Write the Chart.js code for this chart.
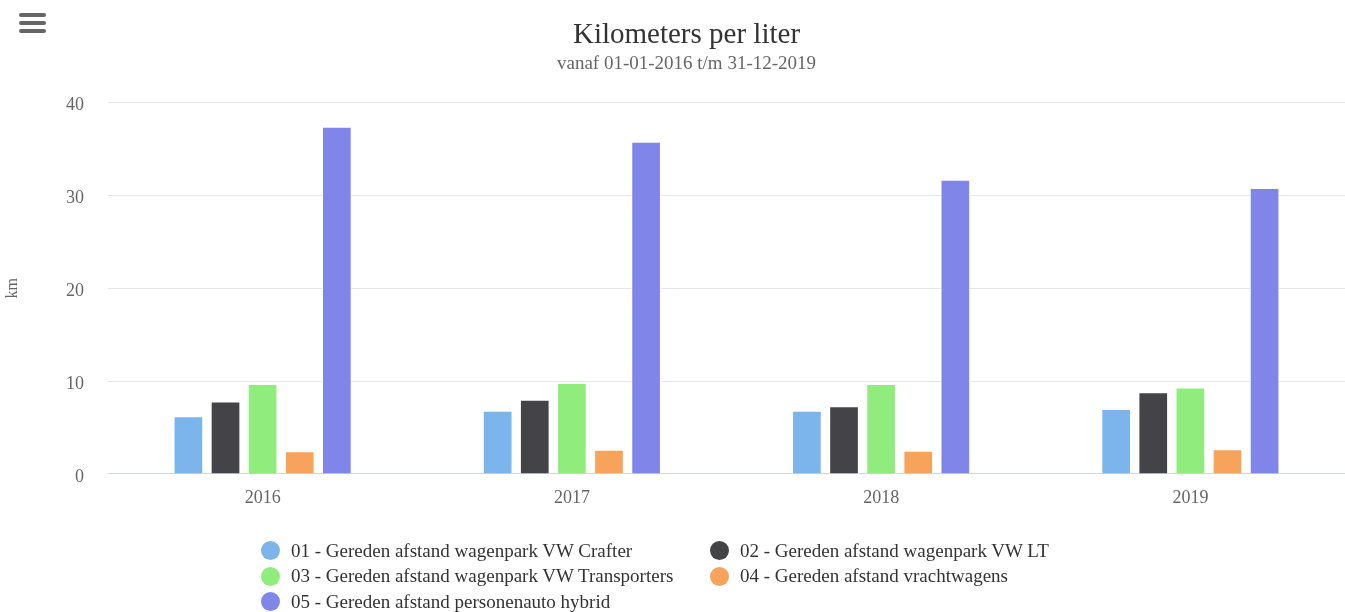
<!DOCTYPE html>
<html>
<head>
<meta charset="utf-8">
<script src="https://cdn.jsdelivr.net/npm/chart.js@4/dist/chart.umd.min.js"></script>
<style>
  html, body { margin: 0; padding: 0; background: #fff; }
  #wrap { position: relative; width: 1345px; height: 612px; }
  #menu { position: absolute; left: 19px; top: 13px; width: 27px; }
  #menu span { display: block; height: 4px; border-radius: 2px; background: #666; margin-bottom: 4px; }
  #legend { position: absolute; left: 261px; top: 538px; display: grid;
    grid-template-columns: 449px auto; row-gap: 0; font-family: "Liberation Serif", serif;
    font-size: 19px; color: #333; }
  #legend div { display: flex; align-items: center; height: 25.5px; cursor: pointer; }
  #legend i { display: inline-block; width: 19px; height: 19px; border-radius: 50%; margin-right: 11px; }
</style>
</head>
<body>
<div id="wrap">
  <canvas id="kmChart"></canvas>
  <div id="menu"><span></span><span></span><span></span></div>
  <div id="legend"></div>
</div>
<script>
  // Kilometers per liter per year
  const years = ['2016', '2017', '2018', '2019'];
  const seriesNames = [
    '01 - Gereden afstand wagenpark VW Crafter',
    '02 - Gereden afstand wagenpark VW LT',
    '03 - Gereden afstand wagenpark VW Transporters',
    '04 - Gereden afstand vrachtwagens',
    '05 - Gereden afstand personenauto hybrid'
  ];
  const crafter = [6.2, 6.8, 6.8, 7.0];
  const vwLT = [7.8, 8.0, 7.3, 8.8];
  const transporters = [9.7, 9.8, 9.7, 9.3];
  const vrachtwagens = [2.45, 2.6, 2.5, 2.65];
  const hybrid = [37.4, 35.8, 31.7, 30.8];
  const yTicks = [0, 10, 20, 30, 40];

  const seriesValues = [crafter, vwLT, transporters, vrachtwagens, hybrid];
  const colors = ['#7cb5ec', '#434348', '#90ed7d', '#f7a35c', '#8085e9'];
  const serif = '"Liberation Serif", "Times New Roman", serif';

  const ctx = document.getElementById('kmChart').getContext('2d');
  const kmChart = new Chart(ctx, {
    type: 'bar',
    data: {
      labels: years,
      datasets: seriesNames.map((name, i) => ({
        label: name,
        data: seriesValues[i],
        backgroundColor: colors[i],
        borderColor: '#ffffff',
        borderWidth: 1,
        categoryPercentage: 0.6,
        barPercentage: 0.8
      }))
    },
    options: {
      responsive: true,
      maintainAspectRatio: false,
      animation: false,
      layout: {
        // left padding shifts the titles to the right a bit, like the original
        padding: { left: 28, right: 0, top: 0, bottom: 88.5 }
      },
      plugins: {
        legend: { display: false },
        tooltip: { enabled: true },
        title: {
          display: true,
          text: 'Kilometers per liter',
          color: '#333333',
          font: { family: serif, size: 29, weight: 'normal', lineHeight: 1.1 },
          padding: { top: 19, bottom: 2 }
        },
        subtitle: {
          display: true,
          text: 'vanaf 01-01-2016 t/m 31-12-2019',
          color: '#666666',
          font: { family: serif, size: 19, weight: 'normal', lineHeight: 1.15 },
          padding: { top: 0, bottom: 28 }
        }
      },
      scales: {
        x: {
          grid: { display: false, drawTicks: false },
          border: { display: true, color: '#ccd6eb', width: 1 },
          ticks: {
            color: '#666666',
            padding: 14,
            font: { family: serif, size: 18 }
          }
        },
        y: {
          min: 0,
          max: 40,
          afterBuildTicks: axis => { axis.ticks = yTicks.map(v => ({ value: v })); },
          afterFit: axis => { axis.width = 80; },
          grid: { color: '#e6e6e6', drawTicks: false },
          border: { display: false },
          ticks: {
            color: '#666666',
            padding: 24,
            labelOffset: 3,
            font: { family: serif, size: 18 }
          },
          title: {
            display: true,
            text: 'km',
            color: '#666666',
            font: { family: serif, size: 16 },
            padding: { top: -24.6, bottom: 0 }
          }
        }
      }
    }
  });

  // html legend in two columns, like the original
  const legendEl = document.getElementById('legend');
  seriesNames.forEach((name, i) => {
    const item = document.createElement('div');
    item.innerHTML = '<i style="background:' + colors[i] + '"></i>' + name;
    item.onclick = () => {
      const visible = kmChart.isDatasetVisible(i);
      kmChart.setDatasetVisibility(i, !visible);
      item.style.color = visible ? '#ccc' : '';
      kmChart.update();
    };
    legendEl.appendChild(item);
  });
</script>
</body>
</html>
